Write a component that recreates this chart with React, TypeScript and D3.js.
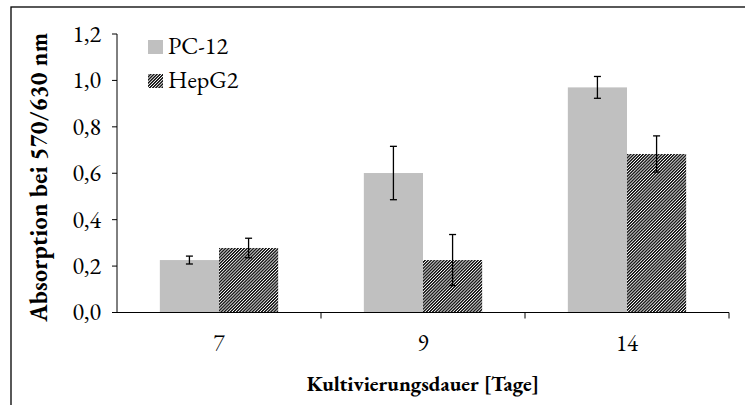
import { useEffect, useRef } from "react";
import * as d3 from "d3";

const categories = ["7", "9", "14"];
const series = ["PC-12", "HepG2"];
const pc12Values = [0.226, 0.601, 0.97];
const pc12Errors = [0.017, 0.115, 0.047];
const hepg2Values = [0.278, 0.226, 0.683];
const hepg2Errors = [0.042, 0.11, 0.078];
const yTicks = [0, 0.2, 0.4, 0.6, 0.8, 1.0, 1.2];

const W = 745;
const H = 405;
const FONT = "'EB Garamond', 'Times New Roman', serif";

export default function App() {
  const ref = useRef<SVGSVGElement>(null);

  useEffect(() => {
    if (!ref.current) return;
    const svg = d3.select(ref.current);
    svg.selectAll("*").remove();

    const left = 117;
    const right = 729;
    const top = 34;
    const bottom = 312.5;

    // hatch pattern for HepG2
    const defs = svg.append("defs");
    const pat = defs
      .append("pattern")
      .attr("id", "hatch")
      .attr("patternUnits", "userSpaceOnUse")
      .attr("width", 2.2)
      .attr("height", 2.2)
      .attr("patternTransform", "rotate(45)");
    pat.append("rect").attr("width", 2.2).attr("height", 2.2).attr("fill", "#fff");
    pat.append("rect").attr("width", 1.4).attr("height", 2.2).attr("fill", "#111");

    // outer frame
    svg
      .append("rect")
      .attr("x", 11)
      .attr("y", 7)
      .attr("width", W + 20)
      .attr("height", H + 20)
      .attr("fill", "none")
      .attr("stroke", "#000")
      .attr("stroke-width", 1.3);

    const x0 = d3.scaleBand().domain(categories).range([left, right]).paddingInner(0.42).paddingOuter(0.21);
    const x1 = d3.scaleBand().domain(series).range([0, x0.bandwidth()]);
    const y = d3.scaleLinear().domain([0, 1.2]).range([bottom, top]);

    const step = (right - left) / categories.length;

    const data = [
      { name: "PC-12", values: pc12Values, errors: pc12Errors, fill: "#c0c0c0" },
      { name: "HepG2", values: hepg2Values, errors: hepg2Errors, fill: "url(#hatch)" },
    ];

    data.forEach((s) => {
      const g = svg.append("g");
      g.selectAll("rect")
        .data(categories)
        .enter()
        .append("rect")
        .attr("x", (c) => x0(c)! + x1(s.name)!)
        .attr("y", (c, i) => y(s.values[i]))
        .attr("width", x1.bandwidth())
        .attr("height", (c, i) => bottom - y(s.values[i]))
        .attr("fill", s.fill);
    });

    // error bars
    data.forEach((s) => {
      categories.forEach((c, i) => {
        const cx = x0(c)! + x1(s.name)! + x1.bandwidth() / 2;
        const hi = y(s.values[i] + s.errors[i]);
        const lo = y(s.values[i] - s.errors[i]);
        const g = svg.append("g").attr("stroke", "#000").attr("stroke-width", 1.3);
        g.append("line").attr("x1", cx).attr("x2", cx).attr("y1", hi).attr("y2", lo);
        g.append("line").attr("x1", cx - 3.5).attr("x2", cx + 3.5).attr("y1", hi).attr("y2", hi);
        g.append("line").attr("x1", cx - 3.5).attr("x2", cx + 3.5).attr("y1", lo).attr("y2", lo);
      });
    });

    const txt = (sel: any, size: number, bold = false, spacing = 0) =>
      sel
        .style("font-family", FONT)
        .style("font-size", `${size}px`)
        .style("font-weight", bold ? "bold" : "normal")
        .style("letter-spacing", `${spacing}px`)
        .attr("fill", "#000");

    // y axis
    svg
      .append("line")
      .attr("x1", left)
      .attr("x2", left)
      .attr("y1", top)
      .attr("y2", bottom)
      .attr("stroke", "#000");
    yTicks.forEach((t) => {
      svg
        .append("line")
        .attr("x1", left - 5)
        .attr("x2", left)
        .attr("y1", y(t))
        .attr("y2", y(t))
        .attr("stroke", "#000");
      txt(
        svg
          .append("text")
          .attr("x", left - 16)
          .attr("y", y(t))
          .attr("dy", "0.33em")
          .attr("text-anchor", "end"),
        24
      ).text(d3.format(".1f")(t).replace(".", ","));
    });

    // x axis
    svg
      .append("line")
      .attr("x1", left)
      .attr("x2", right)
      .attr("y1", bottom)
      .attr("y2", bottom)
      .attr("stroke", "#000");
    categories.forEach((c, i) => {
      const tx = left + step * (i + 1);
      svg
        .append("line")
        .attr("x1", tx)
        .attr("x2", tx)
        .attr("y1", bottom)
        .attr("y2", bottom + 6)
        .attr("stroke", "#000");
      txt(
        svg
          .append("text")
          .attr("x", x0(c)! + x0.bandwidth() / 2)
          .attr("y", bottom + 38)
          .attr("text-anchor", "middle"),
        23
      ).text(c);
    });

    // axis titles
    txt(
      svg
        .append("text")
        .attr("x", 423)
        .attr("y", 391)
        .attr("text-anchor", "middle"),
      21,
      true
    ).text("Kultivierungsdauer [Tage]");
    txt(
      svg
        .append("text")
        .attr("transform", `translate(47,${(top + bottom) / 2 + 4}) rotate(-90)`)
        .attr("text-anchor", "middle"),
      24,
      true,
      0.3
    ).text("Absorption bei 570/630 nm");

    // legend
    data.forEach((s, i) => {
      const ly = 40 + i * 34;
      svg
        .append("rect")
        .attr("x", 148)
        .attr("y", ly)
        .attr("width", 15)
        .attr("height", 14)
        .attr("fill", s.fill);
      txt(
        svg
          .append("text")
          .attr("x", 168)
          .attr("y", ly + 14),
        24
      ).text(s.name);
    });
  }, []);

  return (
    <svg
      ref={ref}
      width={W}
      height={H}
      style={{ position: "absolute", left: 0, top: 0, background: "#fff" }}
    />
  );
}
